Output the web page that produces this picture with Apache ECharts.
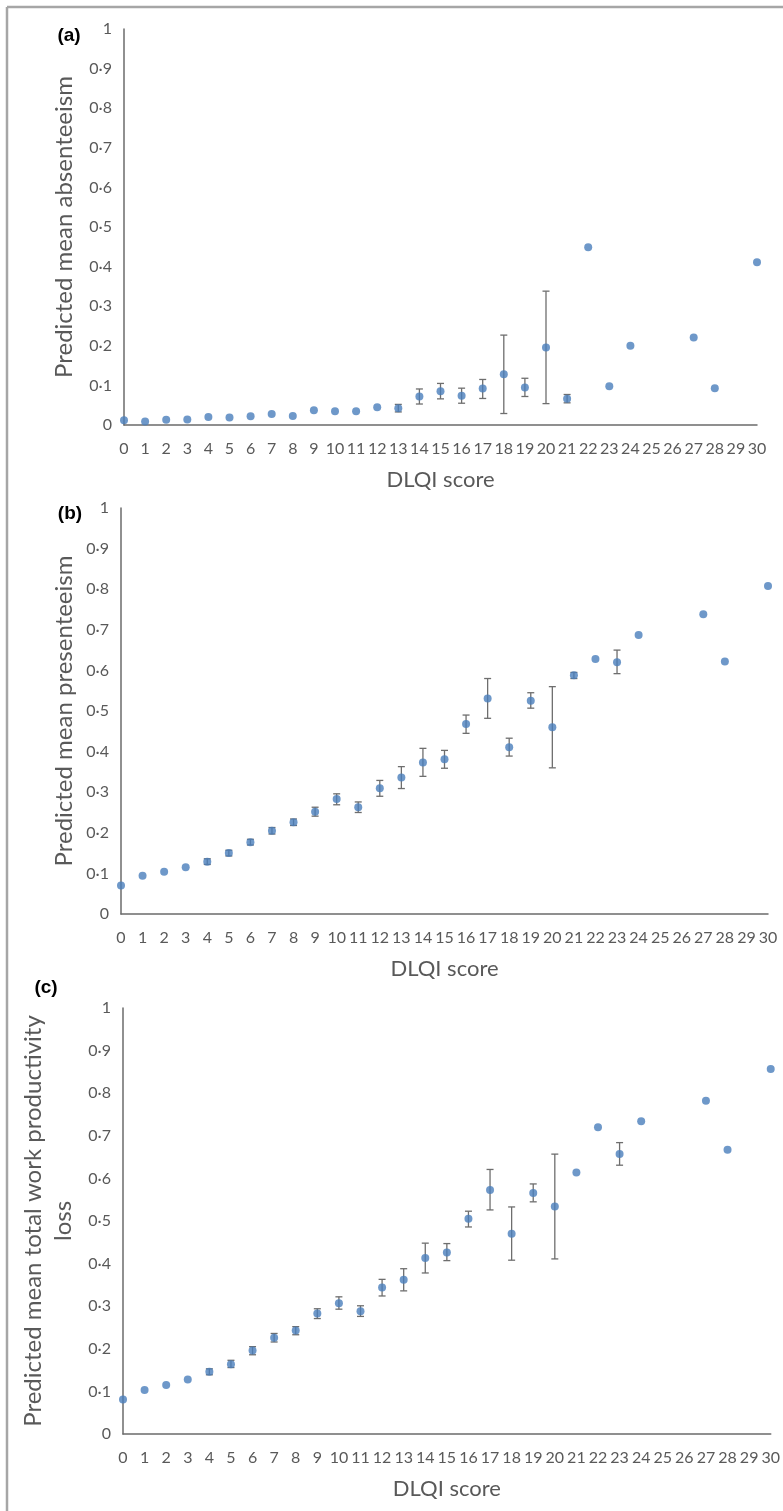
<!DOCTYPE html>
<html>
<head>
<meta charset="utf-8">
<script src="https://cdn.jsdelivr.net/npm/echarts@6/dist/echarts.min.js"></script>
<style>
html,body{margin:0;padding:0;background:#fff;}
#chart{width:783px;height:1511px;}
</style>
</head>
<body>
<div id="chart"></div>
<script>
// DLQI scores with a predicted value
const scores = [0,1,2,3,4,5,6,7,8,9,10,11,12,13,14,15,16,17,18,19,20,21,22,23,24,27,28,30];
const xTicks = [0,1,2,3,4,5,6,7,8,9,10,11,12,13,14,15,16,17,18,19,20,21,22,23,24,25,26,27,28,29,30];

// (a) Predicted mean absenteeism
const absenteeism = [0.012,0.009,0.013,0.014,0.020,0.019,0.022,0.028,0.023,0.037,0.035,0.035,0.045,0.042,0.072,0.085,0.074,0.092,0.128,0.095,0.196,0.066,0.449,0.098,0.200,0.221,0.093,0.411];
const absErrScore = [13,14,15,16,17,18,19,20,21];
const absErrLow   = [0.033,0.053,0.066,0.055,0.067,0.029,0.072,0.054,0.056];
const absErrHigh  = [0.052,0.091,0.105,0.093,0.115,0.227,0.118,0.338,0.077];

// (b) Predicted mean presenteeism
const presenteeism = [0.070,0.094,0.104,0.115,0.129,0.150,0.177,0.205,0.226,0.252,0.283,0.263,0.310,0.336,0.373,0.381,0.468,0.531,0.411,0.525,0.460,0.588,0.628,0.620,0.687,0.738,0.622,0.808];
const preErrScore = [4,5,6,7,8,9,10,11,12,13,14,15,16,17,18,19,20,21,23];
const preErrLow   = [0.122,0.143,0.170,0.197,0.218,0.241,0.269,0.250,0.290,0.309,0.339,0.359,0.445,0.482,0.389,0.507,0.360,0.580,0.592];
const preErrHigh  = [0.136,0.157,0.184,0.213,0.234,0.263,0.296,0.276,0.329,0.363,0.408,0.403,0.490,0.580,0.433,0.545,0.560,0.595,0.650];

// (c) Predicted mean total work productivity loss
const productivityLoss = [0.081,0.103,0.115,0.128,0.146,0.164,0.196,0.226,0.243,0.283,0.307,0.288,0.344,0.362,0.413,0.426,0.505,0.573,0.470,0.566,0.534,0.614,0.720,0.657,0.734,0.782,0.667,0.857];
const prodErrScore = [4,5,6,7,8,9,10,11,12,13,14,15,16,17,18,19,20,23];
const prodErrLow   = [0.139,0.156,0.186,0.216,0.233,0.271,0.293,0.276,0.324,0.336,0.378,0.407,0.486,0.526,0.408,0.545,0.411,0.631];
const prodErrHigh  = [0.153,0.173,0.205,0.236,0.252,0.294,0.322,0.301,0.363,0.388,0.448,0.447,0.523,0.621,0.533,0.587,0.657,0.684];

const yTitles = ['Predicted mean absenteeism','Predicted mean presenteeism','Predicted mean total work productivity\nloss'];
const xTitle = 'DLQI score';
const panelLabels = ['(a)','(b)','(c)'];

const chart = echarts.init(document.getElementById('chart'), null, {renderer:'canvas'});

const TXT = '#595959';
const AX = '#6b6b6b';
const DOT = '#4a7ebb';
const FONT = 'Lato, "Open Sans", sans-serif';

const grids = [
  {left:124, top:29, width:633, height:396},
  {left:121, top:508, width:647, height:406},
  {left:123, top:1008, width:650, height:426}
];

function yFmt(v){
  if (Math.abs(v) < 1e-9) return '0';
  if (Math.abs(v-1) < 1e-9) return '1';
  return '0\u00B7' + Math.round(v*10);
}

const xAxes = grids.map((g,i)=>({
  type:'value', gridIndex:i, min:0, max:30, interval:1,
  name:xTitle, nameLocation:'middle', nameGap:44,
  nameTextStyle:{color:TXT, fontSize:22, fontFamily:FONT},
  axisLine:{show:true, onZero:false, lineStyle:{color:AX, width:1.5}},
  axisTick:{show:false}, splitLine:{show:false},
  axisLabel:{color:TXT, fontSize:16, fontFamily:FONT, margin:16, showMinLabel:true, showMaxLabel:true,
    formatter:v=> xTicks.indexOf(v) >= 0 ? String(v) : ''}
}));

const yAxes = grids.map((g,i)=>({
  type:'value', gridIndex:i, min:0, max:1, interval:0.1,
  axisLine:{show:true, lineStyle:{color:AX, width:1.5}},
  axisTick:{show:false}, splitLine:{show:false},
  axisLabel:{color:TXT, fontSize:16, fontFamily:FONT, margin:12, formatter:yFmt}
}));

function errRender(params, api){
  const x = api.value(0), lo = api.value(1), hi = api.value(2);
  const pHi = api.coord([x, hi]);
  const pLo = api.coord([x, lo]);
  const cw = 3.5;
  const st = {stroke:'#6e6e6e', lineWidth:1.3};
  return {type:'group', children:[
    {type:'line', shape:{x1:pHi[0], y1:pHi[1], x2:pLo[0], y2:pLo[1]}, style:st},
    {type:'line', shape:{x1:pHi[0]-cw, y1:pHi[1], x2:pHi[0]+cw, y2:pHi[1]}, style:st},
    {type:'line', shape:{x1:pLo[0]-cw, y1:pLo[1], x2:pLo[0]+cw, y2:pLo[1]}, style:st}
  ]};
}

const valueSets = [absenteeism, presenteeism, productivityLoss];
const errSets = [
  [absErrScore, absErrLow, absErrHigh],
  [preErrScore, preErrLow, preErrHigh],
  [prodErrScore, prodErrLow, prodErrHigh]
];

const series = [];
valueSets.forEach((vals,i)=>{
  const e = errSets[i];
  series.push({
    type:'custom', xAxisIndex:i, yAxisIndex:i, z:1,
    renderItem:errRender, encode:{x:0, y:[1,2]},
    data:e[0].map((s,k)=>[s, e[1][k], e[2][k]]),
    silent:true
  });
  series.push({
    type:'scatter', xAxisIndex:i, yAxisIndex:i, z:3,
    symbol:'circle', symbolSize:8,
    itemStyle:{color:DOT},
    data:scores.map((s,k)=>[s, vals[k]])
  });
});

const labelPos = [[69,36],[70,514],[46,988]];
const yTitlePos = [[64,227],[64,711],[48,1221]];

chart.setOption({
  animation:false,
  backgroundColor:'#fff',
  grid:grids,
  xAxis:xAxes,
  yAxis:yAxes,
  series:series,
  graphic:[
    {type:'line', shape:{x1:7, y1:7, x2:783, y2:7}, style:{stroke:'#a6a6a6', lineWidth:2.5}},
    {type:'line', shape:{x1:7, y1:7, x2:7, y2:1511}, style:{stroke:'#a6a6a6', lineWidth:2.5}},
  ].concat(panelLabels.map((t,i)=>({
    type:'text', x:labelPos[i][0], y:labelPos[i][1],
    style:{text:t, fill:'#000', font:'bold 19px "Liberation Sans", Arial, sans-serif', align:'center', verticalAlign:'middle'}
  }))).concat(yTitles.map((t,i)=>({
    type:'text', x:yTitlePos[i][0], y:yTitlePos[i][1], rotation:Math.PI/2,
    style:{text:t, fill:TXT, fontSize:24, fontFamily:FONT, lineHeight:30, align:'center', verticalAlign:'middle'}
  })))
});
</script>
</body>
</html>
